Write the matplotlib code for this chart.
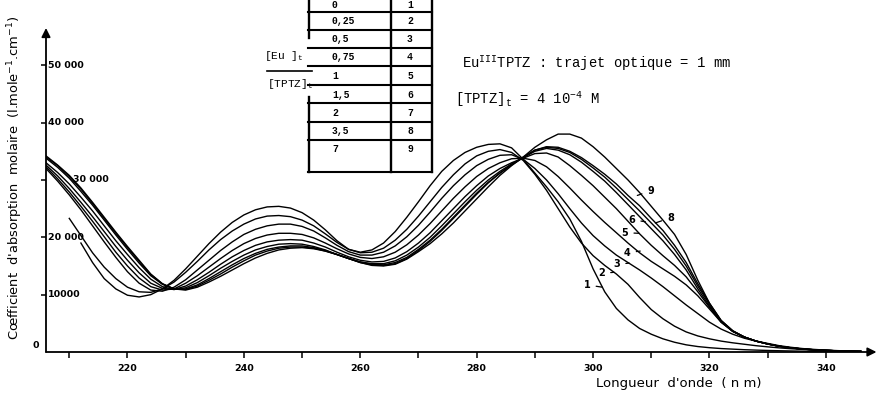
import numpy as np
import matplotlib.pyplot as plt

plt.rcParams["mathtext.fontset"] = "custom"
plt.rcParams["mathtext.rm"] = "Liberation Mono"
plt.rcParams["mathtext.it"] = "Liberation Mono"

# wavelength grid (nm) and molar absorption coefficients (x 1000)
wavelength = np.arange(206, 348, 2)
nan = np.nan

eps_1 = [nan, nan, nan, 19.0, 15.6, 12.8, 11.0, 9.9, 9.6, 10.0,
         11.0, 12.5, 14.5, 16.7, 18.9, 20.9, 22.6, 23.9, 24.8, 25.3,
         25.4, 25.1, 24.3, 23.0, 21.3, 19.4, 17.9, 17.4, 17.8, 19.0,
         21.0, 23.5, 26.2, 29.0, 31.5, 33.4, 34.8, 35.7, 36.2, 36.3,
         35.6, 33.6, 31.2, 28.8, 26.2, 23.2, 19.3, 14.5, 10.5, 7.6,
         5.6, 4.1, 3.1, 2.3, 1.7, 1.25, 0.95, 0.75, 0.6, 0.5,
         0.4, 0.33, 0.27, 0.22, 0.18, 0.14, 0.11, 0.09, 0.07, 0.05, 0.04]
eps_2 = [nan, nan, 23.3, 20.3, 17.3, 14.8, 12.8, 11.3, 10.5, 10.4,
         11.0, 12.2, 13.9, 15.8, 17.8, 19.6, 21.1, 22.3, 23.2, 23.7,
         23.8, 23.6, 23.0, 22.0, 20.6, 19.1, 17.9, 17.3, 17.4, 18.1,
         19.5, 21.4, 23.7, 26.2, 28.7, 30.9, 32.8, 34.2, 35.0, 35.3,
         34.8, 33.4, 31.0, 28.2, 25.0, 21.8, 19.0, 16.8, 15.1, 13.6,
         11.8, 9.5, 7.4, 5.8, 4.5, 3.5, 2.8, 2.3, 1.9, 1.6,
         1.35, 1.1, 0.9, 0.72, 0.57, 0.45, 0.35, 0.27, 0.2, 0.15, 0.11]
eps_3 = [32.0, 29.8, 27.4, 24.8, 22.0, 19.2, 16.5, 14.0, 12.0, 10.8,
         10.6, 11.3, 12.6, 14.3, 16.0, 17.7, 19.2, 20.5, 21.4, 22.0,
         22.3, 22.3, 21.9, 21.1, 19.9, 18.6, 17.5, 16.9, 16.9, 17.4,
         18.5, 20.1, 22.1, 24.4, 26.8, 29.0, 30.9, 32.5, 33.6, 34.3,
         34.4, 33.6, 32.0, 30.0, 27.6, 25.0, 22.5, 20.3, 18.5, 16.9,
         15.6, 14.3, 12.9, 11.4, 9.8, 8.2, 6.7, 5.2, 4.0, 3.1,
         2.4, 1.9, 1.5, 1.1, 0.82, 0.6, 0.45, 0.33, 0.24, 0.17, 0.12]
eps_4 = [32.3, 30.2, 27.9, 25.4, 22.8, 20.1, 17.4, 15.0, 12.9, 11.4,
         10.8, 11.0, 12.0, 13.3, 14.8, 16.3, 17.7, 18.9, 19.8, 20.4,
         20.7, 20.7, 20.5, 19.9, 19.0, 18.0, 17.1, 16.5, 16.3, 16.6,
         17.4, 18.7, 20.4, 22.4, 24.6, 26.8, 28.8, 30.6, 32.0, 33.0,
         33.7, 33.8, 33.4, 32.3, 30.6, 28.6, 26.5, 24.5, 22.6, 20.8,
         19.0, 17.3, 15.8, 14.5, 13.2, 11.7, 9.8, 7.5, 5.2, 3.6,
         2.6, 1.9, 1.4, 1.0, 0.72, 0.52, 0.38, 0.28, 0.2, 0.14, 0.1]
eps_5 = [32.6, 30.7, 28.5, 26.1, 23.6, 21.0, 18.4, 16.0, 13.8, 12.0,
         11.1, 10.9, 11.5, 12.6, 13.9, 15.3, 16.6, 17.7, 18.6, 19.2,
         19.5, 19.6, 19.5, 19.0, 18.3, 17.4, 16.6, 16.0, 15.7, 15.8,
         16.4, 17.5, 19.0, 20.8, 22.9, 25.0, 27.1, 29.0, 30.7, 32.0,
         33.0, 33.8, 34.6, 34.7, 34.0, 32.5, 30.8, 29.0, 27.0, 25.0,
         22.8, 20.6, 18.6, 16.8, 15.1, 13.1, 10.5, 7.8, 5.2, 3.6,
         2.6, 1.9, 1.4, 1.0, 0.72, 0.52, 0.38, 0.28, 0.2, 0.14, 0.1]
eps_6 = [33.0, 31.3, 29.3, 27.0, 24.6, 22.0, 19.4, 17.0, 14.7, 12.7,
         11.4, 10.9, 11.2, 12.1, 13.3, 14.6, 15.8, 16.9, 17.8, 18.4,
         18.8, 18.9, 18.8, 18.4, 17.8, 17.0, 16.3, 15.7, 15.4, 15.4,
         15.9, 16.9, 18.3, 20.0, 22.0, 24.1, 26.2, 28.2, 30.0, 31.5,
         32.8, 33.9, 35.0, 35.5, 35.2, 34.4, 33.1, 31.5, 29.8, 27.8,
         25.7, 23.6, 21.5, 19.4, 17.0, 14.3, 11.0, 8.0, 5.3, 3.6,
         2.6, 1.9, 1.4, 1.0, 0.72, 0.52, 0.38, 0.28, 0.2, 0.14, 0.1]
eps_7 = [33.8, 32.2, 30.3, 28.0, 25.6, 23.0, 20.4, 17.9, 15.5, 13.3,
         11.8, 11.0, 11.0, 11.7, 12.8, 14.0, 15.2, 16.3, 17.2, 17.9,
         18.3, 18.5, 18.5, 18.2, 17.7, 17.0, 16.3, 15.7, 15.3, 15.2,
         15.6, 16.5, 17.9, 19.5, 21.4, 23.5, 25.6, 27.7, 29.6, 31.2,
         32.6, 33.9, 35.2, 35.7, 35.5, 34.8, 33.6, 32.1, 30.5, 28.6,
         26.6, 24.6, 22.5, 20.4, 17.9, 15.0, 11.5, 8.3, 5.4, 3.6,
         2.6, 1.9, 1.4, 1.0, 0.72, 0.52, 0.38, 0.28, 0.2, 0.14, 0.1]
eps_8 = [34.0, 32.5, 30.6, 28.4, 25.9, 23.3, 20.7, 18.2, 15.8, 13.5,
         11.9, 11.0, 10.9, 11.5, 12.5, 13.6, 14.8, 15.9, 16.9, 17.6,
         18.1, 18.3, 18.3, 18.1, 17.6, 17.0, 16.3, 15.6, 15.2, 15.1,
         15.4, 16.3, 17.7, 19.3, 21.2, 23.3, 25.4, 27.5, 29.5, 31.2,
         32.7, 34.0, 35.2, 35.8, 35.7, 35.0, 33.9, 32.5, 31.0, 29.3,
         27.3, 25.5, 23.3, 21.2, 18.6, 15.6, 11.9, 8.5, 5.5, 3.7,
         2.6, 1.9, 1.4, 1.0, 0.72, 0.52, 0.38, 0.28, 0.2, 0.14, 0.1]
eps_9 = [34.2, 32.6, 30.8, 28.6, 26.1, 23.5, 20.9, 18.4, 16.0, 13.6,
         11.9, 11.0, 10.8, 11.3, 12.2, 13.2, 14.3, 15.4, 16.4, 17.2,
         17.8, 18.1, 18.2, 18.0, 17.6, 17.0, 16.3, 15.6, 15.1, 15.0,
         15.3, 16.2, 17.5, 18.9, 20.6, 22.5, 24.6, 26.7, 28.8, 30.8,
         32.5, 34.0, 35.7, 37.0, 38.0, 38.0, 37.3, 35.8, 34.0, 32.0,
         30.0, 27.8, 25.4, 23.0, 20.5, 17.0, 12.5, 8.5, 5.5, 3.7,
         2.6, 1.9, 1.4, 1.0, 0.72, 0.52, 0.38, 0.28, 0.2, 0.14, 0.1]
curves = [eps_1, eps_2, eps_3, eps_4, eps_5, eps_6, eps_7, eps_8, eps_9]

# table: [Eu]t/[TPTZ]t ratio -> curve number
ratios = ["0", "0,25", "0,5", "0,75", "1", "1,5", "2", "3,5", "7"]
curve_ids = ["1", "2", "3", "4", "5", "6", "7", "8", "9"]

y_ticks = [10000, 20000, 30000, 40000, 50000]
y_tick_labels = ["10000", "20 000", "30 000", "40 000", "50 000"]
x_ticks = np.arange(210, 341, 10)
x_tick_labels = [str(t) if t % 20 == 0 else "" for t in x_ticks]

# curve label: text, text position, end of leader on the curve
curve_labels = [
    ("1", 299.0, 11700, 301.6, 11300),
    ("2", 301.5, 13700, 303.6, 13900),
    ("3", 304.1, 15300, 306.2, 15500),
    ("4", 305.9, 17300, 308.1, 17600),
    ("5", 305.5, 20800, 307.9, 20700),
    ("6", 306.7, 23100, 309.0, 22700),
    ("8", 313.3, 23400, 310.7, 22500),
    ("9", 309.9, 28100, 307.6, 27300),
]

W, H = 880, 401
fig = plt.figure(figsize=(W / 100, H / 100), dpi=100)
ax = fig.add_axes([46 / W, 1 - 352 / H, 830.5 / W, 324 / H])

for eps in curves:
    ax.plot(wavelength, np.array(eps) * 1000, color="black", lw=1.0)

ax.set_xlim(206, 348.7)
ax.set_ylim(0, 56500)
for s in ["top", "right", "left", "bottom"]:
    ax.spines[s].set_visible(False)
ax.annotate("", xy=(1, 0), xytext=(0, 0), xycoords="axes fraction",
            arrowprops=dict(arrowstyle="-|>", lw=1.3, color="black",
                            mutation_scale=13, shrinkA=0, shrinkB=0))
ax.annotate("", xy=(0, 1), xytext=(0, 0), xycoords="axes fraction",
            arrowprops=dict(arrowstyle="-|>", lw=1.3, color="black",
                            mutation_scale=13, shrinkA=0, shrinkB=0))

ax.set_xticks(x_ticks)
ax.set_xticklabels(x_tick_labels, fontsize=6.8, fontweight="bold")
ax.tick_params(axis="x", direction="out", length=4.5, width=1.1, pad=4)
ax.set_yticks(y_ticks)
ax.set_yticklabels([])
ax.tick_params(axis="y", direction="out", length=3.5, width=1.1)

ytr = ax.get_yaxis_transform()
for v, lab in zip(y_ticks, y_tick_labels):
    dx = 0.032 if v == 30000 else 0.002
    ax.text(dx, v, lab, transform=ytr, ha="left", va="center",
            fontsize=6.8, fontweight="bold")
ax.text(-0.008, 1200, "0", transform=ytr, ha="right", va="center",
        fontsize=6.8, fontweight="bold")

for txt, xt, yt, xe, ye in curve_labels:
    ax.annotate(txt, xy=(xe, ye), xytext=(xt, yt), ha="center", va="center",
                fontsize=7, fontweight="bold",
                arrowprops=dict(arrowstyle="-", lw=0.9, color="black",
                                shrinkA=2, shrinkB=0))

fig.text(15 / W, 1 - 178 / H,
         "Cœfficient  d'absorption  molaire  (l.mole$^{-1}$.cm$^{-1}$)",
         rotation=90, ha="center", va="center", fontsize=9.4,
         math_fontfamily="dejavusans")
fig.text(679 / W, 1 - 383 / H, "Longueur  d'onde  ( n m)",
         ha="center", va="center", fontsize=9.5)

# overlay in pixel coordinates for the table and the notes
ov = fig.add_axes([0, 0, 1, 1])
ov.set_xlim(0, W)
ov.set_ylim(H, 0)
ov.axis("off")

row_lines = [12, 30, 48, 66, 85, 103, 122, 140, 172]
row_mid = [5, 21, 39.5, 57.5, 76, 94.5, 113, 131, 149]
tl, tm, tr = 309, 391, 432
for y in row_lines:
    ov.plot([tl - 1, tr], [y, y], color="black", lw=1.5)
ov.plot([tl, tl], [-2, 38], color="black", lw=1.7)
ov.plot([tl, tl], [97, 172], color="black", lw=1.7)
ov.plot([tm, tm], [-2, 172], color="black", lw=1.7)
ov.plot([tr, tr], [-2, 172], color="black", lw=1.7)
for y, r, c in zip(row_mid, ratios, curve_ids):
    ov.text(332, y, r, ha="left", va="center", fontsize=7,
            family="Liberation Mono", fontweight="bold")
    ov.text(410, y, c, ha="center", va="center", fontsize=7,
            family="Liberation Mono", fontweight="bold")

ov.text(284, 56, "[Eu ]$_{t}$", ha="center", va="center", fontsize=8,
        family="Liberation Mono")
ov.plot([267, 312], [70.5, 70.5], color="black", lw=1.2)
ov.text(290, 84, "[TPTZ]$_{t}$", ha="center", va="center", fontsize=8,
        family="Liberation Mono")

ov.text(462, 68, "Eu$^{\\mathrm{III}}$TPTZ : trajet optique = 1 mm",
        ha="left", va="baseline", fontsize=10, family="Liberation Mono")
ov.text(455, 104, "[TPTZ]$_{t}$ = 4 10$^{-4}$ M",
        ha="left", va="baseline", fontsize=10, family="Liberation Mono")

fig.savefig("out.png", dpi=100)
